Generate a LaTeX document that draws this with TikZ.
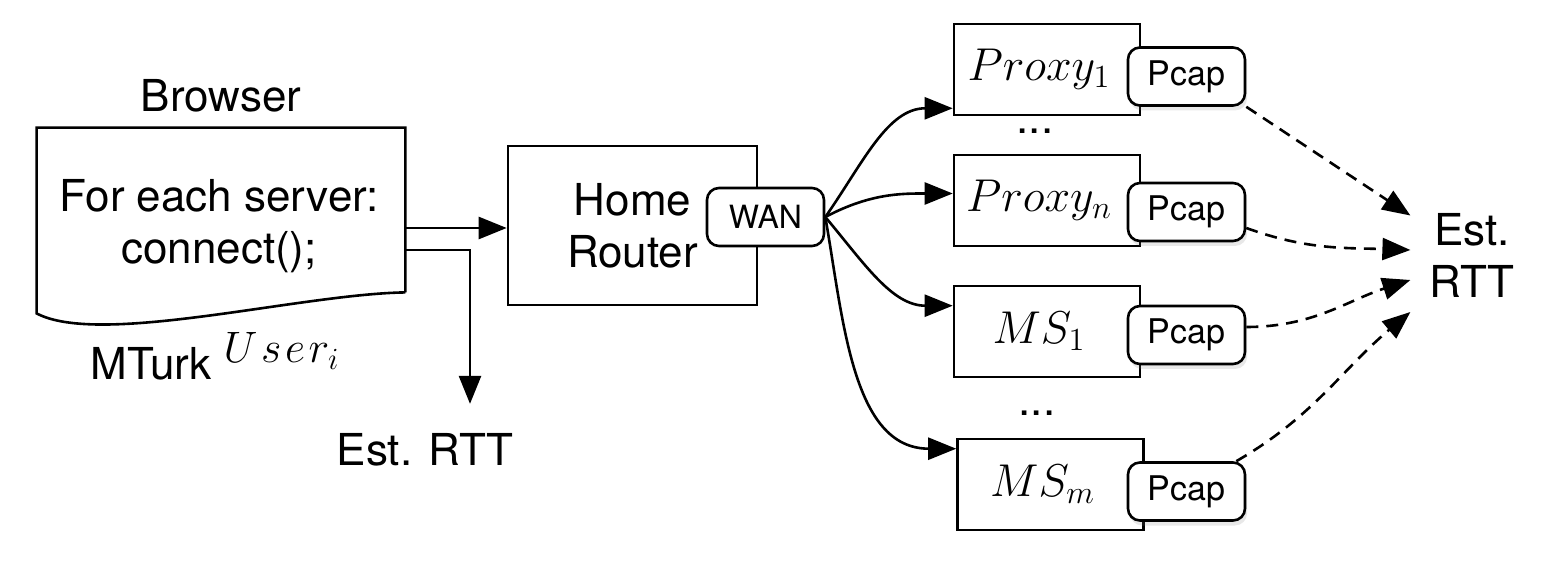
\RequirePackage{fix-cm}
\documentclass[tikz,border=0pt]{standalone}
\usepackage{fontspec}
\setmainfont{TeX Gyre Heros}
\usetikzlibrary{arrows.meta, positioning, shadows}

\begin{document}
\begin{tikzpicture}[
        x=0.5pt, y=0.5pt,
        font=\fontsize{22}{26}\selectfont,
        txt/.style={align=center, inner sep=0pt},
        doc/.style={rectangle, minimum width=184pt, minimum height=82pt, inner sep=0pt},
        box/.style={rectangle, draw=black, line width=1.3pt, fill=white, minimum width=93pt, minimum height=45.5pt, inner sep=0pt, font=\fontsize{23}{26}\selectfont},
        router/.style={box, minimum width=124.5pt, minimum height=79.5pt, align=center, font=\fontsize{22}{26}\selectfont},
        port/.style={rectangle, rounded corners=6pt, draw=black, line width=1.3pt, fill=white, minimum width=58.5pt, minimum height=29pt, inner sep=0pt, font=\fontsize{16}{18}\selectfont},
        pcap/.style={port, font=\fontsize{17}{19}\selectfont, drop shadow={shadow xshift=1pt, shadow yshift=-2.5pt, opacity=0.18}},
        arrow/.style={-{Triangle[length=14pt, width=11pt]}, line width=1.3pt},
        dasharrow/.style={arrow, dash pattern=on 6pt off 4pt}
    ]

        \useasboundingbox (0,0) rectangle (1546,562);

        % browser side
        \node[doc] (browser) at (221,352) {};
        \draw[line width=1.3pt] (browser.south east) -- (browser.north east) -- (browser.north west) -- ([yshift=-10.5pt]browser.south west) .. controls (100,215) and (300,268) .. (browser.south east);
        \node[above=4pt of browser] (title) {Browser};
        \node[txt] (code) at (219,336) {For each server:\\connect();};
        \node[anchor=base] (mturk) at (215,182) {MTurk \raisebox{8.5pt}{\fontsize{22}{22}\selectfont$U\mkern1.5mu s\mkern1.5mu e\mkern1.5mu r_i$}};
        \node[anchor=base] (estl) at (425,97) {Est. RTT};

        % router
        \node[router] (router) at (632.5,336.5) {Home\\Router};
        \node[port] (wan) at (765.5,345) {WAN};

        % servers
        \node[box] (proxy1) at (1047,492.5) {$Proxy_1$\hspace*{8pt}};
        \node[pcap] (cap1) at (1186.5,485.5) {Pcap};
        \node[anchor=base] (dots1) at (1035,428) {...};
        \node[box] (proxyn) at (1047,361.5) {$Proxy_n$\hspace*{8pt}};
        \node[pcap] (capn) at (1186.5,350) {Pcap};
        \node[box] (ms1) at (1047,230.5) {$MS_1$\hspace*{8pt}};
        \node[pcap] (capm1) at (1186.5,227) {Pcap};
        \node[anchor=base] (dots2) at (1037,146) {...};
        \node[box] (msm) at (1050.5,77.5) {$MS_m$\hspace*{8pt}};
        \node[pcap] (capmm) at (1186.5,70.5) {Pcap};

        \node[txt] (rtt) at (1472,306.5) {Est.\\RTT};

        % connectors
        \coordinate (out1) at ([yshift=-9pt]browser.east);
        \coordinate (out2) at ([yshift=-20pt]browser.east);
        \draw[arrow] (out1) -- (out1 -| router.west);
        \draw[arrow] (out2) -| ([xshift=22.5pt,yshift=11pt]estl.north);

        \draw[arrow] (wan.east) to[out=55, in=180] ([yshift=4pt]proxy1.south west);
        \draw[arrow] (wan.east) to[out=28, in=180] ([yshift=3.5pt]proxyn.west);
        \draw[arrow] (wan.east) to[out=-50, in=180] ([yshift=-10.5pt]ms1.north west);
        \draw[arrow] (wan.east) to[out=-80, in=180] ([yshift=-5.5pt]msm.north west);

        \draw[dasharrow] (cap1.south east) -- ([xshift=-9.5pt,yshift=20pt]rtt.west);
        \draw[dasharrow] ([yshift=-8pt]capn.east) to[out=-20, in=178] ([xshift=-9.5pt,yshift=2.75pt]rtt.west);
        \draw[dasharrow] ([yshift=4pt]capm1.east) to[out=0, in=198] ([xshift=-9.5pt,yshift=-12.25pt]rtt.west);
        \draw[dasharrow] ([xshift=-5pt]capmm.north east) to[out=30, in=220] ([xshift=-9.5pt,yshift=-28.25pt]rtt.west);

    \end{tikzpicture}
\end{document}
